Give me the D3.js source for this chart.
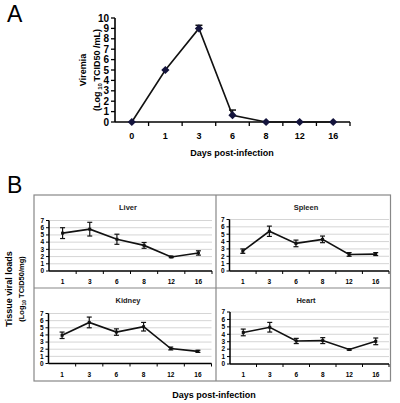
<!DOCTYPE html>
<html><head><meta charset="utf-8">
<script src="https://cdn.jsdelivr.net/npm/d3@7"></script>
<style>body{margin:0;background:#fff}svg{display:block;font-family:"Liberation Sans",Arial,sans-serif}</style>
</head><body>
<script>
// Panel A data
const daysA = ["0","1","3","6","8","12","16"];
const viremia = [0, 5, 9, 0.65, 0, 0, 0];
const viremiaErr = [0, 0, 0.3, 0.5, 0, 0, 0];
const ticksA = [0,1,2,3,4,5,6,7,8,9,10];
// Panel B data
const daysB = ["1","3","6","8","12","16"];
const tissues = ["Liver","Spleen","Kidney","Heart"];
const liver = [5.25, 5.8, 4.4, 3.55, 1.95, 2.5];
const liverErr = [0.75, 0.95, 0.7, 0.4, 0.1, 0.3];
const spleen = [2.7, 5.4, 3.75, 4.3, 2.25, 2.3];
const spleenErr = [0.3, 0.7, 0.45, 0.45, 0.25, 0.2];
const kidney = [3.95, 5.75, 4.4, 5.15, 2.1, 1.7];
const kidneyErr = [0.45, 0.75, 0.45, 0.6, 0.2, 0.15];
const heart = [4.25, 4.95, 3.1, 3.15, 1.95, 3.05];
const heartErr = [0.45, 0.65, 0.35, 0.4, 0.1, 0.45];
const ticksB = [0,1,2,3,4,5,6,7];

const svg = d3.select("body").append("svg").attr("width",400).attr("height",403);

// Panel labels
svg.append("text").attr("x",7).attr("y",22).attr("font-size",23).text("A");
svg.append("text").attr("x",7).attr("y",193).attr("font-size",23).text("B");

// ---- Panel A ----
const xA = d3.scaleBand().domain(daysA).range([115,350]);
const yA = d3.scaleLinear().domain([0,10]).range([122,18]);
const gA = svg.append("g");
gA.append("line").attr("x1",115).attr("x2",115).attr("y1",yA(10)).attr("y2",yA(0)).attr("stroke","#000").attr("stroke-width",1.6);
ticksA.forEach(t=>{
  gA.append("line").attr("x1",111).attr("x2",115).attr("y1",yA(t)).attr("y2",yA(t)).attr("stroke","#000").attr("stroke-width",1.3);
  gA.append("text").attr("x",109).attr("y",yA(t)+3.5).attr("text-anchor","end").attr("font-size",10).attr("font-weight","bold").text(t);
});
gA.append("line").attr("x1",115).attr("x2",350).attr("y1",yA(0)).attr("y2",yA(0)).attr("stroke","#000").attr("stroke-width",1.6);
daysA.forEach((d,i)=>{
  const bx = xA(d);
  if(i>0) gA.append("line").attr("x1",bx).attr("x2",bx).attr("y1",yA(0)).attr("y2",yA(0)+4).attr("stroke","#000").attr("stroke-width",1.3);
  gA.append("text").attr("x",bx+xA.bandwidth()/2).attr("y",139).attr("text-anchor","middle").attr("font-size",9).attr("font-weight","bold").text(d);
});
gA.append("line").attr("x1",350).attr("x2",350).attr("y1",yA(0)).attr("y2",yA(0)+4).attr("stroke","#000").attr("stroke-width",1.3);
gA.append("text").attr("x",232).attr("y",156).attr("text-anchor","middle").attr("font-size",9).attr("font-weight","bold").text("Days post-infection");
const yl = gA.append("text").attr("transform","translate(86,70) rotate(-90)").attr("text-anchor","middle").attr("font-size",9).attr("font-weight","bold");
yl.text("Viremia");
const yl2 = gA.append("text").attr("transform","translate(100,70) rotate(-90)").attr("text-anchor","middle").attr("font-size",9).attr("font-weight","bold");
yl2.append("tspan").text("(Log");
yl2.append("tspan").attr("font-size",6).attr("dy",2).text(" 10 ");
yl2.append("tspan").attr("dy",-2).text("TCID50 /mL)");
const cxA = d=>xA(d)+xA.bandwidth()/2;
gA.append("path").datum(viremia).attr("fill","none").attr("stroke","#111").attr("stroke-width",1.6)
  .attr("d",d3.line().x((v,i)=>cxA(daysA[i])).y(v=>yA(v)));
viremia.forEach((v,i)=>{
  const e = viremiaErr[i];
  if(e>0){
    gA.append("line").attr("x1",cxA(daysA[i])).attr("x2",cxA(daysA[i])).attr("y1",yA(v+e)).attr("y2",yA(v)).attr("stroke","#111").attr("stroke-width",1.5);
    gA.append("line").attr("x1",cxA(daysA[i])-3.5).attr("x2",cxA(daysA[i])+3.5).attr("y1",yA(v+e)).attr("y2",yA(v+e)).attr("stroke","#111").attr("stroke-width",1.5);
  }
});
gA.selectAll("path.pt").data(viremia).enter().append("path").attr("class","pt")
  .attr("d",d3.symbol().type(d3.symbolSquare).size(34))
  .attr("transform",(v,i)=>`translate(${cxA(daysA[i])},${yA(v)}) rotate(45)`).attr("fill","#14143c");

// ---- Panel B ----
svg.append("rect").attr("x",34).attr("y",195).attr("width",356.5).attr("height",186).attr("fill","none").attr("stroke","#888").attr("stroke-width",1.2);
svg.append("line").attr("x1",216).attr("x2",216).attr("y1",195).attr("y2",381).attr("stroke","#888").attr("stroke-width",1.2);
svg.append("line").attr("x1",34).attr("x2",390.5).attr("y1",288).attr("y2",288).attr("stroke","#888").attr("stroke-width",1.2);

const series = [liver, spleen, kidney, heart];
const errs = [liverErr, spleenErr, kidneyErr, heartErr];
const layout = [
  {x0:49, x1:212, y0:271, y7:220.5, tx:128, ty:210},
  {x0:229.5, x1:389, y0:271, y7:219.5, tx:306, ty:210},
  {x0:48.5, x1:211.5, y0:363.5, y7:313.5, tx:128, ty:303},
  {x0:230, x1:389, y0:364, y7:312, tx:306, ty:303}
];
tissues.forEach((name,k)=>{
  const L = layout[k];
  const g = svg.append("g");
  const x = d3.scaleBand().domain(daysB).range([L.x0,L.x1]);
  const y = d3.scaleLinear().domain([0,7]).range([L.y0,L.y7]);
  const cx = d=>x(d)+x.bandwidth()/2;
  g.append("text").attr("x",L.tx).attr("y",L.ty).attr("text-anchor","middle").attr("font-size",7.5).attr("font-weight","bold").attr("fill","#222").text(name);
  ticksB.forEach(t=>{
    if(t>0) g.append("line").attr("x1",L.x0).attr("x2",L.x1).attr("y1",y(t)).attr("y2",y(t)).attr("stroke","#d0d0d0").attr("stroke-width",0.9);
    g.append("line").attr("x1",L.x0-3).attr("x2",L.x0).attr("y1",y(t)).attr("y2",y(t)).attr("stroke","#000").attr("stroke-width",1);
    g.append("text").attr("x",L.x0-5).attr("y",y(t)+2.3).attr("text-anchor","end").attr("font-size",6.5).attr("font-weight","bold").text(t);
  });
  g.append("line").attr("x1",L.x0).attr("x2",L.x0).attr("y1",y(0)).attr("y2",y(7)).attr("stroke","#000").attr("stroke-width",1.5);
  g.append("line").attr("x1",L.x0).attr("x2",L.x1).attr("y1",y(0)).attr("y2",y(0)).attr("stroke","#000").attr("stroke-width",1.5);
  daysB.forEach((d,i)=>{
    if(i>0) g.append("line").attr("x1",x(d)).attr("x2",x(d)).attr("y1",y(0)).attr("y2",y(0)+3).attr("stroke","#000").attr("stroke-width",1);
    g.append("text").attr("x",cx(d)).attr("y",L.y0+13).attr("text-anchor","middle").attr("font-size",6.5).attr("font-weight","bold").text(d);
  });
  g.append("line").attr("x1",L.x1).attr("x2",L.x1).attr("y1",y(0)).attr("y2",y(0)+3).attr("stroke","#000").attr("stroke-width",1);
  const vals = series[k], er = errs[k];
  g.append("path").datum(vals).attr("fill","none").attr("stroke","#111").attr("stroke-width",1.6)
    .attr("d",d3.line().x((v,i)=>cx(daysB[i])).y(v=>y(v)));
  vals.forEach((v,i)=>{
    const px = cx(daysB[i]), e = er[i];
    g.append("line").attr("x1",px).attr("x2",px).attr("y1",y(v+e)).attr("y2",y(v-e)).attr("stroke","#111").attr("stroke-width",1.2);
    [v+e, v-e].forEach(w=>g.append("line").attr("x1",px-2.5).attr("x2",px+2.5).attr("y1",y(w)).attr("y2",y(w)).attr("stroke","#111").attr("stroke-width",1.2));
    g.append("rect").attr("x",px-1.5).attr("y",y(v)-1.5).attr("width",3).attr("height",3).attr("fill","#111");
  });
});
svg.append("text").attr("x",214).attr("y",398).attr("text-anchor","middle").attr("font-size",9).attr("font-weight","bold").text("Days post-infection");
svg.append("text").attr("transform","translate(12,289) rotate(-90)").attr("text-anchor","middle").attr("font-size",9).attr("font-weight","bold").text("Tissue viral loads");
const bl = svg.append("text").attr("transform","translate(24,289) rotate(-90)").attr("text-anchor","middle").attr("font-size",7.5).attr("font-weight","bold");
bl.append("tspan").text("(Log");
bl.append("tspan").attr("font-size",5).attr("dy",1.5).text("10");
bl.append("tspan").attr("dy",-1.5).text(" TCID50/mg)");
</script>
</body></html>
